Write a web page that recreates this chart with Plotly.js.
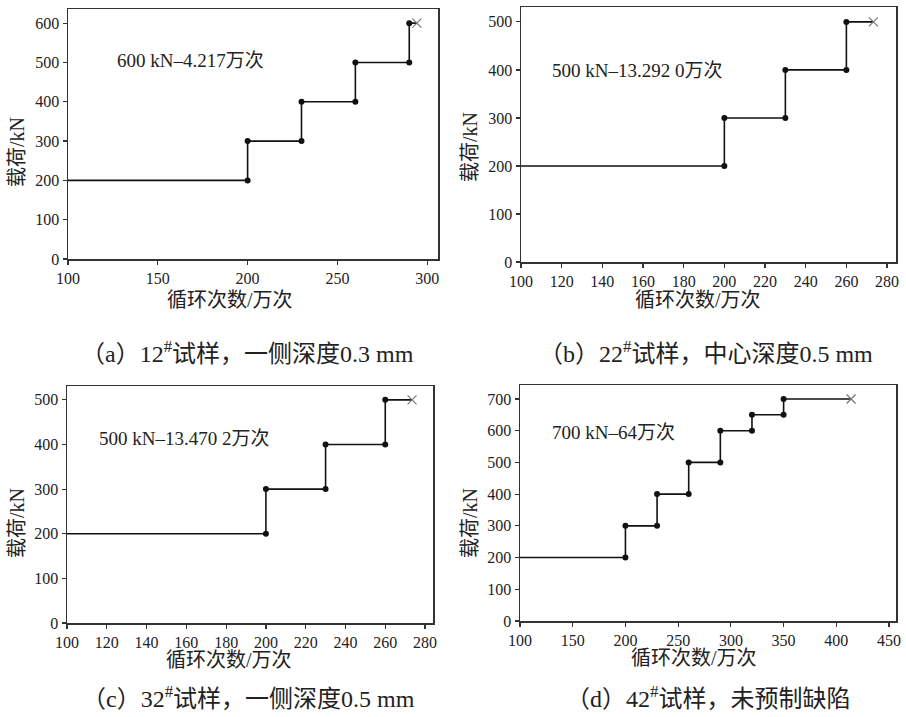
<!DOCTYPE html>
<html>
<head>
<meta charset="utf-8">
<script src="https://cdn.plot.ly/plotly-3.0.1.min.js"></script>
<style>html,body{margin:0;padding:0;background:#fff;}#chart{width:906px;height:717px;}</style>
</head>
<body>
<div id="chart"></div>
<script>
// ---- data ----
const startCycle = 100;               // 万次
const stepsA = [200, 230, 260, 290];  // cycle where load was raised (万次)
const loadsA = [200, 300, 400, 500, 600]; // kN
const failA = 294.217;

const stepsB = [200, 230, 260];
const loadsB = [200, 300, 400, 500];
const failB = 273.292;

const stepsC = [200, 230, 260];
const loadsC = [200, 300, 400, 500];
const failC = 273.4702;

const stepsD = [200, 230, 260, 290, 320, 350];
const loadsD = [200, 300, 400, 500, 600, 650, 700];
const failD = 414;

const labelsPanel = ["600 kN–4.217万次", "500 kN–13.292 0万次", "500 kN–13.470 2万次", "700 kN–64万次"];
const captions = [
  "（a）12<sup>#</sup>试样，一侧深度0.3 mm",
  "（b）22<sup>#</sup>试样，中心深度0.5 mm",
  "（c）32<sup>#</sup>试样，一侧深度0.5 mm",
  "（d）42<sup>#</sup>试样，未预制缺陷"
];
const xTitle = "循环次数/万次";
const yTitle = "载荷/kN";

// ---- build ----
const W = 906, H = 717;
const px = x => x / W;
const py = y => 1 - y / H;
const FONT = "'Liberation Serif', 'DejaVu Serif', 'Noto Sans CJK SC', serif";

function buildTraces(steps, loads, fail, ax) {
  const lx = [startCycle], ly = [loads[0]];
  const dx = [], dy = [];
  steps.forEach((s, i) => {
    lx.push(s, s); ly.push(loads[i], loads[i + 1]);
    dx.push(s, s); dy.push(loads[i], loads[i + 1]);
  });
  lx.push(fail); ly.push(loads[loads.length - 1]);
  return [
    {x: lx, y: ly, type: 'scatter', mode: 'lines', xaxis: 'x' + ax, yaxis: 'y' + ax,
     line: {color: '#111', width: 1.6}, hoverinfo: 'skip', showlegend: false},
    {x: dx, y: dy, type: 'scatter', mode: 'markers', xaxis: 'x' + ax, yaxis: 'y' + ax,
     marker: {color: '#111', size: 6}, showlegend: false},
    {x: [fail], y: [loads[loads.length - 1]], type: 'scatter', mode: 'markers', xaxis: 'x' + ax, yaxis: 'y' + ax,
     marker: {symbol: 'x-thin', color: '#777', size: 9, line: {color: '#777', width: 1.2}}, showlegend: false}
  ];
}

const data = [].concat(
  buildTraces(stepsA, loadsA, failA, ''),
  buildTraces(stepsB, loadsB, failB, '2'),
  buildTraces(stepsC, loadsC, failC, '3'),
  buildTraces(stepsD, loadsD, failD, '4')
);

// panel geometry in pixels: [left, right, top, bottom]
const boxes = [[68, 438, 9, 259], [521, 896, 7, 262], [67, 433, 386, 623], [520, 896, 385, 621]];
const xRanges = [[100, 306], [100, 284.4], [100, 284], [100, 456.6]];
const yRanges = [[0, 636], [0, 531], [0, 531], [0, 744]];
const xDtick = [50, 20, 20, 50];
const yDtick = [100, 100, 100, 100];

const axBase = {
  showgrid: false, zeroline: false, showline: true, linecolor: '#333', linewidth: 1.5,
  mirror: true, ticks: 'outside', ticklen: 4, tickwidth: 1.2, tickcolor: '#333',
  tickfont: {family: FONT, size: 16, color: '#222'}, fixedrange: true
};

const layout = {
  width: W, height: H, margin: {l: 0, r: 0, t: 0, b: 0},
  paper_bgcolor: '#fff', plot_bgcolor: '#fff', showlegend: false,
  annotations: [], font: {family: FONT}
};

const suffix = ['', '2', '3', '4'];
boxes.forEach((b, i) => {
  const s = suffix[i];
  layout['xaxis' + s] = Object.assign({}, axBase, {
    domain: [px(b[0]), px(b[1])], range: xRanges[i], dtick: xDtick[i], tick0: 0,
    anchor: 'y' + s
  });
  layout['yaxis' + s] = Object.assign({}, axBase, {
    domain: [py(b[3]), py(b[2])], range: yRanges[i], dtick: yDtick[i], tick0: 0,
    anchor: 'x' + s
  });
});

// axis titles, panel texts, captions
const xTitlePos = [[230, 300], [698, 300], [229, 660], [694, 658]];
const yTitlePos = [[17, 152], [470, 147], [17, 523], [470, 523]];
const labelPos = [[115, 60], [550, 70], [97, 438], [550, 432]];
const captionPos = [[247, 352], [706, 352], [248, 697], [708, 697]];

for (let i = 0; i < 4; i++) {
  layout.annotations.push({
    text: xTitle, xref: 'paper', yref: 'paper', x: px(xTitlePos[i][0]), y: py(xTitlePos[i][1]),
    xanchor: 'center', yanchor: 'middle', showarrow: false,
    font: {family: FONT, size: 20, color: '#222'}
  });
  layout.annotations.push({
    text: yTitle, xref: 'paper', yref: 'paper', x: px(yTitlePos[i][0]), y: py(yTitlePos[i][1]),
    xanchor: 'center', yanchor: 'middle', showarrow: false, textangle: -90,
    font: {family: FONT, size: 20, color: '#222'}
  });
  layout.annotations.push({
    text: labelsPanel[i], xref: 'paper', yref: 'paper', x: px(labelPos[i][0]), y: py(labelPos[i][1]),
    xanchor: 'left', yanchor: 'middle', showarrow: false,
    font: {family: FONT, size: 19, color: '#222'}
  });
  layout.annotations.push({
    text: captions[i], xref: 'paper', yref: 'paper', x: px(captionPos[i][0]), y: py(captionPos[i][1]),
    xanchor: 'center', yanchor: 'middle', showarrow: false,
    font: {family: FONT, size: 24, color: '#222'}
  });
}

Plotly.newPlot('chart', data, layout, {staticPlot: true, displayModeBar: false});
</script>
</body>
</html>
